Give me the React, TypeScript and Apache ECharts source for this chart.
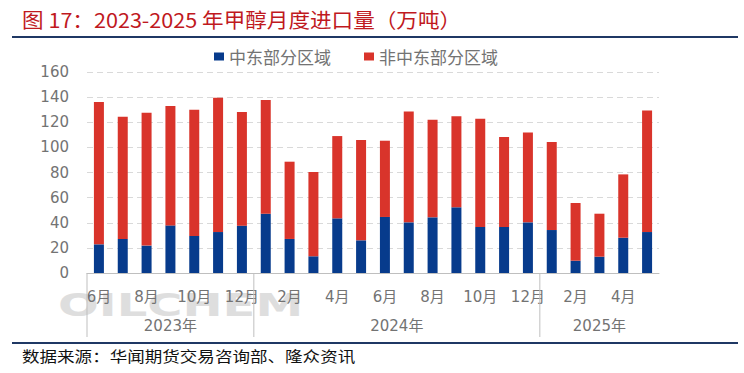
import React, { useEffect, useRef } from "react";
import * as echarts from "echarts";

// ---- data ----
const categories = [
  "2023年6月", "2023年7月", "2023年8月", "2023年9月", "2023年10月", "2023年11月", "2023年12月",
  "2024年1月", "2024年2月", "2024年3月", "2024年4月", "2024年5月", "2024年6月",
  "2024年7月", "2024年8月", "2024年9月", "2024年10月", "2024年11月", "2024年12月",
  "2025年1月", "2025年2月", "2025年3月", "2025年4月", "2025年5月",
];
const middleEast = [
  22.8, 27.1, 21.8, 37.9, 29.5, 32.6, 37.7,
  47.2, 27.1, 13.3, 43.5, 26.0, 44.6, 40.3, 44.3, 52.3, 36.6, 36.6, 40.3,
  34.2, 9.8, 13.0, 28.1, 32.6,
];
const nonMiddleEast = [
  113.3, 97.3, 105.8, 95.0, 100.5, 107.0, 90.5,
  90.5, 61.5, 67.1, 65.5, 79.9, 60.7, 88.3, 77.7, 72.4, 86.2, 71.6, 71.6,
  70.0, 45.9, 34.2, 50.4, 96.8,
];
const seriesNames = ["中东部分区域", "非中东部分区域"];
const years = ["2023年", "2024年", "2025年"];
const yMin = 0;
const yMax = 160;
const yStep = 20;
const titleText = "图 17：2023-2025 年甲醇月度进口量（万吨）";
const sourceText = "数据来源：华闻期货交易咨询部、隆众资讯";

const BLUE = "#073B8C";
const RED = "#D9342B";
const GRAY = "#737373";
const NAVY = "#1F3864";
const FONT = "DejaVu Sans, Noto Sans CJK SC, sans-serif";
const CJK = "Noto Sans CJK SC, sans-serif";

export default function App() {
  const ref = useRef<HTMLDivElement>(null);

  useEffect(() => {
    if (!ref.current) return;
    const chart = echarts.init(ref.current, null, { renderer: "svg" });
    const option: any = {
      animation: false,
      backgroundColor: "#ffffff",
      legend: {
        left: 209,
        top: 43,
        itemWidth: 10,
        itemHeight: 8,
        itemGap: 33,
        icon: "rect",
        textStyle: { color: GRAY, fontSize: 17, fontFamily: CJK },
        data: seriesNames,
      },
      grid: { left: 87, right: 85, top: 72, bottom: 100, containLabel: false },
      xAxis: {
        type: "category",
        data: categories,
        axisLine: { lineStyle: { color: "#BFBFBF", width: 1 } },
        axisTick: { show: false },
        axisLabel: {
          interval: 1,
          margin: 16,
          color: GRAY,
          fontSize: 15,
          fontFamily: FONT,
          formatter: (v: string) => v.split("年")[1],
        },
      },
      yAxis: {
        type: "value",
        min: yMin,
        max: yMax,
        interval: yStep,
        axisLine: { show: false },
        axisTick: { show: false },
        axisLabel: { color: GRAY, fontSize: 15, fontFamily: FONT, margin: 18 },
        splitLine: { lineStyle: { color: "#D9D9D9", type: [6, 4], width: 1 } },
      },
      series: [
        {
          name: seriesNames[0],
          type: "bar",
          stack: "total",
          barWidth: 10,
          itemStyle: { color: BLUE },
          data: middleEast,
        },
        {
          name: seriesNames[1],
          type: "bar",
          stack: "total",
          barWidth: 10,
          itemStyle: { color: RED },
          data: nonMiddleEast,
        },
      ],
    };
    chart.setOption(option);

    // year groups derived from categories
    const px = (i: number) => chart.convertToPixel({ xAxisIndex: 0 }, categories[i]) as number;
    const y0 = chart.convertToPixel({ yAxisIndex: 0 }, 0) as number;
    const bw = px(1) - px(0);
    const graphics: any[] = [];
    years.forEach((yr) => {
      const idx = categories
        .map((c, i) => (c.startsWith(yr) ? i : -1))
        .filter((i) => i >= 0);
      const first = idx[0];
      const last = idx[idx.length - 1];
      const xStart = px(first) - bw / 2;
      graphics.push({
        type: "line",
        shape: { x1: xStart, y1: y0, x2: xStart, y2: y0 + 64 },
        style: { stroke: "#BFBFBF", lineWidth: 1 },
        z: 10,
      });
      graphics.push({
        type: "text",
        x: (px(first) + px(last)) / 2,
        y: y0 + 53,
        style: {
          text: yr,
          fill: GRAY,
          font: `15px ${FONT}`,
          textAlign: "center",
          textVerticalAlign: "middle",
        },
        z: 10,
      });
    });

    // watermark
    graphics.push({
      type: "text",
      x: 58,
      y: y0 + 32,
      scaleX: 1.5,
      style: {
        text: "OILCHEM",
        fill: "#DEDEDE",
        font: "bold 32px DejaVu Sans, sans-serif",
        textAlign: "left",
        textVerticalAlign: "middle",
      },
      z: -10,
    });

    // title + rules + source
    graphics.push({
      type: "text",
      x: 22,
      y: 19,
      scaleX: 1.08,
      style: {
        text: titleText,
        fill: "#C0191E",
        font: `20px ${CJK}`,
        textAlign: "left",
        textVerticalAlign: "middle",
      },
    });
    graphics.push({
      type: "line",
      shape: { x1: 12, y1: 37, x2: 738, y2: 37 },
      style: { stroke: NAVY, lineWidth: 2 },
    });
    graphics.push({
      type: "line",
      shape: { x1: 12, y1: 343, x2: 738, y2: 343 },
      style: { stroke: NAVY, lineWidth: 2 },
    });
    graphics.push({
      type: "text",
      x: 22,
      y: 356,
      scaleX: 1.17,
      style: {
        text: sourceText,
        fill: "#111111",
        font: `15px ${CJK}`,
        textAlign: "left",
        textVerticalAlign: "middle",
      },
    });

    chart.setOption({ graphic: graphics });

    return () => chart.dispose();
  }, []);

  return (
    <div
      ref={ref}
      style={{ position: "absolute", left: 0, top: 0, width: 744, height: 373, background: "#fff" }}
    />
  );
}
